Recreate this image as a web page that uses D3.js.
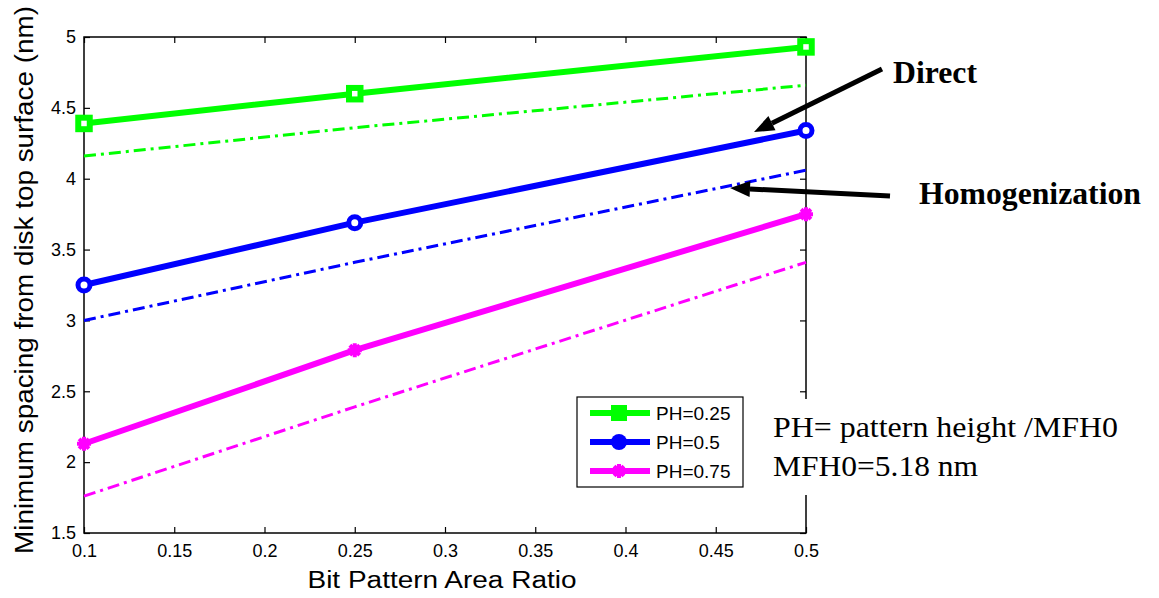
<!DOCTYPE html>
<html><head><meta charset="utf-8">
<script src="https://cdn.jsdelivr.net/npm/d3@7"></script>
<style>body{margin:0;background:#fff}svg{display:block}</style>
</head><body>
<svg id="c" width="1159" height="598"></svg>
<script>
const xVals = [0.1, 0.25, 0.5];
const seriesNames = ["PH=0.25", "PH=0.5", "PH=0.75"];
const directValues = [
  [4.39, 4.60, 4.93],
  [3.25, 3.69, 4.34],
  [2.13, 2.79, 3.75]
];
const homogValues = [
  [4.16, 4.36, 4.66],
  [3.00, 3.41, 4.06],
  [1.76, 2.39, 3.41]
];
const seriesColors = ["#00ff00", "#0000ff", "#ff00ff"];
const seriesMarkers = ["square", "circle", "star"];
const xTicks = [0.1, 0.15, 0.2, 0.25, 0.3, 0.35, 0.4, 0.45, 0.5];
const yTicks = [1.5, 2, 2.5, 3, 3.5, 4, 4.5, 5];

const svg = d3.select("#c");
const L = 84, R = 806, T = 37, B = 533;
const x = d3.scaleLinear().domain([0.1, 0.5]).range([L, R]);
const y = d3.scaleLinear().domain([1.5, 5]).range([B, T]);
const SANS = "Liberation Sans, Arial, sans-serif";
const SERIF = "Liberation Serif, Times New Roman, serif";

// axes
const tickLen = 6;
const fmt = d => String(d);
svg.append("g").attr("transform", `translate(0,${B})`)
  .call(d3.axisBottom(x).tickValues(xTicks).tickFormat(fmt).tickSizeInner(-tickLen).tickSizeOuter(0).tickPadding(11))
  .call(g => { g.select(".domain").remove(); g.selectAll("text").attr("font-size",18).attr("font-family",SANS).attr("fill","#000"); });
svg.append("g").attr("transform", `translate(0,${T})`)
  .call(d3.axisTop(x).tickValues(xTicks).tickFormat("").tickSizeInner(-tickLen).tickSizeOuter(0))
  .call(g => g.select(".domain").remove());
svg.append("g").attr("transform", `translate(${L},0)`)
  .call(d3.axisLeft(y).tickValues(yTicks).tickFormat(fmt).tickSizeInner(-tickLen).tickSizeOuter(0).tickPadding(8))
  .call(g => { g.select(".domain").remove(); g.selectAll("text").attr("font-size",18).attr("font-family",SANS).attr("fill","#000"); });
svg.append("g").attr("transform", `translate(${R},0)`)
  .call(d3.axisRight(y).tickValues(yTicks).tickFormat("").tickSizeInner(-tickLen).tickSizeOuter(0))
  .call(g => g.select(".domain").remove());
svg.selectAll(".tick line").attr("stroke", "#000").attr("stroke-width", 1.2);
svg.append("rect").attr("x", L).attr("y", T).attr("width", R - L).attr("height", B - T)
  .attr("fill", "none").attr("stroke", "#000").attr("stroke-width", 1.5);

// axis titles
svg.append("text").attr("x", 442).attr("y", 588).attr("text-anchor", "middle")
  .attr("font-family", SANS).attr("font-size", 23)
  .attr("textLength", 269).attr("lengthAdjust", "spacingAndGlyphs").text("Bit Pattern Area Ratio");
svg.append("text").attr("transform", `translate(33,280) rotate(-90)`).attr("text-anchor", "middle")
  .attr("font-family", SANS).attr("font-size", 25)
  .attr("textLength", 548).attr("lengthAdjust", "spacingAndGlyphs").text("Minimum spacing from disk top surface (nm)");

const line = d3.line().x((d, i) => x(xVals[i])).y(d => y(d));

function drawMarker(g, type, cx, cy, color) {
  if (type === "square") {
    g.append("rect").attr("x", cx - 5.75).attr("y", cy - 5.75).attr("width", 11.5).attr("height", 11.5)
      .attr("fill", "#fff").attr("stroke", color).attr("stroke-width", 6);
  } else if (type === "circle") {
    g.append("circle").attr("cx", cx).attr("cy", cy).attr("r", 6)
      .attr("fill", "#fff").attr("stroke", color).attr("stroke-width", 5);
  } else {
    const s = 7;
    const p = `M${cx - s},${cy}L${cx + s},${cy}M${cx},${cy - s}L${cx},${cy + s}` +
      `M${cx - s * 0.7},${cy - s * 0.7}L${cx + s * 0.7},${cy + s * 0.7}M${cx - s * 0.7},${cy + s * 0.7}L${cx + s * 0.7},${cy - s * 0.7}`;
    g.append("path").attr("d", p).attr("stroke", color).attr("stroke-width", 4).attr("fill", "none");
  }
}

const plot = svg.append("g");
homogValues.forEach((vals, i) => {
  plot.append("path").attr("d", line(vals)).attr("fill", "none").attr("stroke", seriesColors[i])
    .attr("stroke-width", 3).attr("stroke-dasharray", "12,5,3,5");
});
directValues.forEach((vals, i) => {
  plot.append("path").attr("d", line(vals)).attr("fill", "none").attr("stroke", seriesColors[i])
    .attr("stroke-width", 6).attr("stroke-linejoin", "round");
  vals.forEach((v, j) => drawMarker(plot, seriesMarkers[i], x(xVals[j]), y(v), seriesColors[i]));
});

// legend
const lg = svg.append("g");
lg.append("rect").attr("x", 577).attr("y", 397).attr("width", 166).attr("height", 90)
  .attr("fill", "#fff").attr("stroke", "#000").attr("stroke-width", 1.2);
seriesNames.forEach((n, i) => {
  const ly = 413 + i * 29;
  lg.append("line").attr("x1", 590).attr("x2", 650).attr("y1", ly).attr("y2", ly)
    .attr("stroke", seriesColors[i]).attr("stroke-width", 6);
  if (seriesMarkers[i] === "square") {
    lg.append("rect").attr("x", 611).attr("y", ly - 8).attr("width", 16).attr("height", 16).attr("fill", seriesColors[i]);
  } else if (seriesMarkers[i] === "circle") {
    lg.append("circle").attr("cx", 619).attr("cy", ly).attr("r", 8).attr("fill", seriesColors[i]);
  } else {
    drawMarker(lg, "star", 619, ly, seriesColors[i]);
  }
  lg.append("text").attr("x", 656).attr("y", ly + 7).attr("font-family", SANS)
    .attr("font-size", 19).text(n);
});

// annotation textbox
svg.append("rect").attr("x", 765).attr("y", 399).attr("width", 370).attr("height", 96).attr("fill", "#fff");
svg.append("text").attr("x", 773).attr("y", 437).attr("font-family", SERIF)
  .attr("font-size", 30).attr("textLength", 345).attr("lengthAdjust", "spacingAndGlyphs").text("PH= pattern height /MFH0");
svg.append("text").attr("x", 773).attr("y", 476).attr("font-family", SERIF)
  .attr("font-size", 30).attr("textLength", 205).attr("lengthAdjust", "spacingAndGlyphs").text("MFH0=5.18 nm");

// arrows
function arrow(x1, y1, x2, y2) {
  const ang = Math.atan2(y2 - y1, x2 - x1);
  const hl = 20, hw = 8;
  const bx = x2 - hl * Math.cos(ang), by = y2 - hl * Math.sin(ang);
  svg.append("line").attr("x1", x1).attr("y1", y1).attr("x2", bx).attr("y2", by)
    .attr("stroke", "#000").attr("stroke-width", 5);
  const px = -Math.sin(ang) * hw, py = Math.cos(ang) * hw;
  svg.append("path").attr("d", `M${x2},${y2}L${bx + px},${by + py}L${bx - px},${by - py}Z`).attr("fill", "#000");
}
arrow(882, 69, 754, 132);
arrow(890, 196, 730, 188);
svg.append("text").attr("x", 893).attr("y", 83).attr("font-family", SERIF)
  .attr("font-weight", "bold").attr("font-size", 31).attr("textLength", 84).attr("lengthAdjust", "spacingAndGlyphs").text("Direct");
svg.append("text").attr("x", 919).attr("y", 204).attr("font-family", SERIF)
  .attr("font-weight", "bold").attr("font-size", 31).attr("textLength", 222).attr("lengthAdjust", "spacingAndGlyphs").text("Homogenization");
</script>
</body></html>
